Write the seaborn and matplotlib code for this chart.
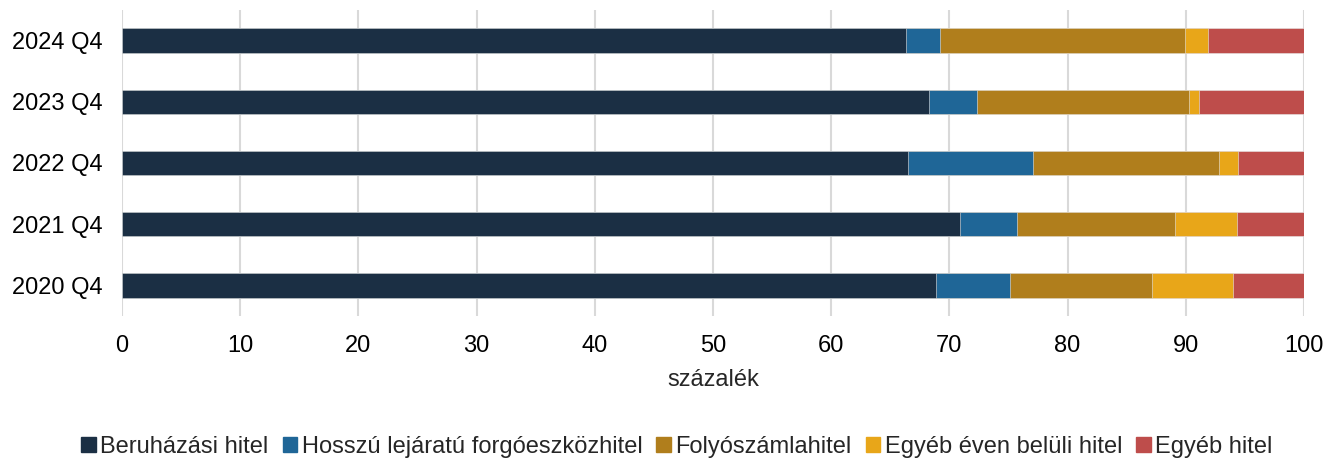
import numpy as np
import pandas as pd
import matplotlib.pyplot as plt
import seaborn as sns

# Data (percent shares)
periods = ["2024 Q4", "2023 Q4", "2022 Q4", "2021 Q4", "2020 Q4"]
beruhazasi = [66.3, 68.3, 66.5, 70.9, 68.9]
hosszu = [2.9, 4.0, 10.6, 4.85, 6.2]
folyoszamla = [20.7, 17.95, 15.75, 13.3, 12.05]
egyeb_even_belul = [2.0, 0.9, 1.55, 5.3, 6.85]
egyeb = [8.1, 8.85, 5.6, 5.65, 6.0]

series_names = ["Beruházási hitel", "Hosszú lejáratú forgóeszközhitel",
                "Folyószámlahitel", "Egyéb éven belüli hitel", "Egyéb hitel"]
colors = ["#1B2F44", "#1F6697", "#B07E1C", "#E8A619", "#BE4D4B"]


def main():
    sns.set_theme(style="white")
    plt.rcParams["font.family"] = ["Liberation Sans", "DejaVu Sans"]

    df = pd.DataFrame({
        "period": periods,
        series_names[0]: beruhazasi,
        series_names[1]: hosszu,
        series_names[2]: folyoszamla,
        series_names[3]: egyeb_even_belul,
        series_names[4]: egyeb,
    })
    cum = df[series_names].cumsum(axis=1)

    fig = plt.figure(figsize=(13.38, 4.63), dpi=100)
    ax = fig.add_axes([122 / 1338, 1 - 316 / 463, (1304 - 122) / 1338, 306 / 463])

    # stacked bars: draw cumulative totals from widest to narrowest
    for name, color in reversed(list(zip(series_names, colors))):
        sns.barplot(x=cum[name], y=df["period"], order=periods, color=color,
                    orient="h", width=0.4, ax=ax, label=name, saturation=1,
                    edgecolor="#E6E6E6", linewidth=0.4, zorder=3)

    ax.set_xlim(0, 100)
    ax.set_ylim(4.5, -0.5)
    ax.set_xticks(np.arange(0, 101, 10))
    ax.grid(axis="x", color="#D9D9D9", linewidth=1.5, zorder=0)
    ax.grid(axis="y", visible=False)
    ax.set_axisbelow(True)
    for s in ax.spines.values():
        s.set_visible(False)
    ax.tick_params(axis="both", length=0, labelsize=17, colors="black")
    ax.tick_params(axis="x", pad=14)
    ax.tick_params(axis="y", pad=14)
    ax.set_ylabel("")
    ax.set_xlabel("százalék", fontsize=17, labelpad=8)

    ax.legend().remove()
    handles = [plt.Rectangle((0, 0), 1, 1, color=c) for c in colors]
    fig.legend(handles, series_names, loc="center", ncol=5,
               bbox_to_anchor=(677 / 1338, 1 - 447 / 463), frameon=False,
               fontsize=17, handlelength=0.6, handleheight=0.6,
               handletextpad=0.2, columnspacing=0.6)

    fig.savefig("out.png", dpi=100)


if __name__ == "__main__":
    main()
